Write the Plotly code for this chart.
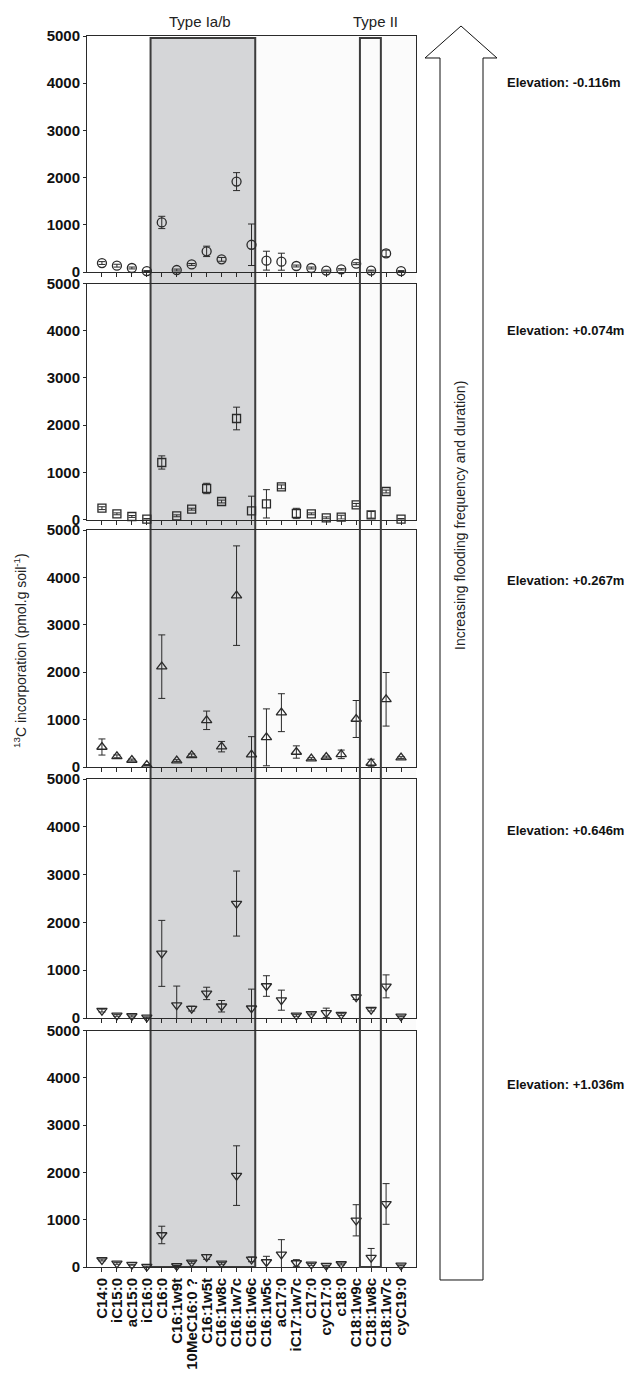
import plotly.graph_objects as go

categories = ["C14:0", "iC15:0", "aC15:0", "iC16:0", "C16:0", "C16:1w9t", "10MeC16:0 ?",
              "C16:1w5t", "C16:1w8c", "C16:1w7c", "C16:1w6c", "C16:1w5c", "aC17:0",
              "iC17:1w7c", "C17:0", "cyC17:0", "c18:0", "C18:1w9c", "C18:1w8c",
              "C18:1w7c", "cyC19:0"]

elevations = ["Elevation: -0.116m", "Elevation: +0.074m", "Elevation: +0.267m",
              "Elevation: +0.646m", "Elevation: +1.036m"]

mean_m0116 = [190, 134, 85, 20, 1050, 42, 160, 437, 268, 1915, 577, 240, 218, 127, 85,
              30, 56, 176, 30, 394, 20]
err_m0116 = [30, 30, 20, 10, 130, 20, 20, 110, 40, 190, 440, 200, 180, 20, 20,
             10, 15, 20, 10, 70, 10]

mean_p0074 = [240, 120, 64, 10, 1208, 78, 219, 657, 381, 2140, 184, 332, 692, 127, 120,
              35, 50, 310, 99, 593, 10]
err_p0074 = [30, 20, 20, 10, 140, 20, 20, 110, 30, 240, 310, 300, 40, 110, 20,
             20, 40, 30, 70, 30, 10]

mean_p0267 = [422, 225, 148, 42, 2117, 134, 246, 985, 429, 3615, 260, 626, 1146, 316, 176,
              211, 267, 1013, 84, 1428, 197]
err_p0267 = [170, 30, 20, 10, 670, 20, 30, 195, 110, 1050, 380, 600, 400, 130, 20,
             20, 90, 390, 80, 565, 20]

mean_p0646 = [155, 56, 42, 14, 1352, 268, 197, 514, 246, 2394, 204, 669, 373, 56, 85,
              106, 70, 437, 176, 662, 35]
err_p0646 = [30, 20, 20, 10, 690, 400, 50, 130, 120, 680, 400, 215, 210, 20, 20,
             100, 20, 50, 30, 240, 10]

mean_p1036 = [148, 78, 49, 10, 677, 21, 99, 212, 78, 1932, 162, 106, 268, 85, 56,
              28, 63, 987, 197, 1333, 35]
err_p1036 = [20, 20, 10, 10, 185, 10, 20, 50, 20, 630, 50, 120, 310, 70, 20,
             10, 20, 330, 195, 430, 10]

means = [mean_m0116, mean_p0074, mean_p0267, mean_p0646, mean_p1036]
errs = [err_m0116, err_p0074, err_p0267, err_p0646, err_p1036]
symbols = ["circle-open", "square-open", "triangle-up-open", "triangle-down-open", "triangle-down-open"]
sizes = [9, 8, 9, 9, 9]

yticks = [0, 1000, 2000, 3000, 4000, 5000]

# page body has an 8px margin; figure is sized to fit inside the window
OFF = 8
W, H = 630, 1366
L, T = 87 - OFF, 36 - OFF
PW = 416 - 87
PH = 1267 - 36
R = W - L - PW
B = H - T - PH


def px(x):
    return (x - OFF - L) / PW


def py(y):
    return (OFF + T + PH - y) / PH


panel_px = [(36, 272), (283.5, 519.5), (530, 767), (779, 1018), (1030.5, 1267)]
label_py = [82, 330, 580, 830, 1084]

INK = "#2a2a2a"
FONT = "Liberation Sans, Arial, sans-serif"

fig = go.Figure()
for i in range(5):
    sfx = "" if i == 0 else str(i + 1)
    fig.add_trace(go.Scatter(
        x=categories, y=means[i], mode="markers",
        xaxis="x" + sfx, yaxis="y" + sfx,
        marker=dict(symbol=symbols[i], size=sizes[i], color=INK, line=dict(width=1.3, color=INK)),
        error_y=dict(type="data", array=errs[i], visible=True, color=INK, thickness=1, width=3.5),
        cliponaxis=False, showlegend=False,
    ))
    top, bot = panel_px[i]
    fig.layout["xaxis" + sfx] = dict(
        type="category", categoryorder="array", categoryarray=categories,
        tickmode="array", tickvals=categories, ticktext=categories,
        range=[-1, 21], domain=[0, 1], anchor="y" + sfx,
        showline=True, mirror=True, linecolor=INK, linewidth=1,
        ticks="outside", ticklen=4, tickwidth=1, tickcolor=INK,
        showgrid=False, zeroline=False,
        showticklabels=(i == 4), tickangle=-90,
        tickfont=dict(family=FONT, size=15, color="#111", weight="bold"),
    )
    fig.layout["yaxis" + sfx] = dict(
        range=[0, 5000], domain=[py(bot), py(top)], anchor="x" + sfx,
        showline=True, mirror=True, linecolor=INK, linewidth=1,
        ticks="outside", ticklen=3, tickwidth=1, tickcolor=INK,
        tickvals=yticks, ticktext=[str(v) for v in yticks],
        showgrid=False, zeroline=False,
        tickfont=dict(family=FONT, size=15, color="#111", weight="bold"),
    )
    fig.add_annotation(
        x=px(505), y=py(label_py[i]), xref="paper", yref="paper",
        text=elevations[i], showarrow=False, xanchor="left", yanchor="middle",
        font=dict(family=FONT, size=13, color="#111", weight="bold"),
    )

shapes = []
# faint background on right part
shapes.append(dict(type="rect", xref="x5", yref="paper", x0=10.25, x1=21, y0=py(1267), y1=py(36),
                   fillcolor="#fbfbfb", line=dict(width=0), layer="below"))
# Type Ia/b shaded box
shapes.append(dict(type="rect", xref="x5", yref="paper", x0=3.25, x1=10.25, y0=py(1267), y1=py(38),
                   fillcolor="#d5d6d8", line=dict(color="#3c3c3c", width=2), layer="below"))
# Type II box
shapes.append(dict(type="rect", xref="x5", yref="paper", x0=17.25, x1=18.65, y0=py(1267), y1=py(38),
                   fillcolor="rgba(255,255,255,0)", line=dict(color="#3c3c3c", width=2), layer="above"))
# Arrow
pts = [(440, 1280), (440, 58), (425, 58), (461, 26), (497, 58), (483, 58), (483, 1280)]
path = "M " + " L ".join(f"{px(x):.5f},{py(y):.5f}" for x, y in pts) + " Z"
shapes.append(dict(type="path", xref="paper", yref="paper", path=path,
                   fillcolor="white", line=dict(color="#111", width=1)))
fig.update_layout(shapes=shapes)

C = dict(xref="paper", yref="paper", showarrow=False, xanchor="center", yanchor="middle")
fig.add_annotation(x=px(200), y=py(21), text="Type Ia/b",
                   font=dict(family=FONT, size=15, color="#222"), **C)
fig.add_annotation(x=px(375), y=py(21), text="Type II",
                   font=dict(family=FONT, size=15, color="#222"), **C)
fig.add_annotation(x=px(460), y=py(515), text="Increasing flooding frequency and duration)",
                   textangle=-90, font=dict(family=FONT, size=14, color="#222"), **C)
fig.add_annotation(x=px(20), y=py(651),
                   text="<sup>13</sup>C incorporation (pmol.g soil<sup>-1</sup>)",
                   textangle=-90, font=dict(family=FONT, size=14, color="#222"), **C)

fig.update_layout(
    width=W, height=H, autosize=False,
    margin=dict(l=L, r=R, t=T, b=B, pad=0, autoexpand=False),
    paper_bgcolor="white", plot_bgcolor="rgba(0,0,0,0)",
    font=dict(family=FONT),
)

fig.write_html("out.html")
